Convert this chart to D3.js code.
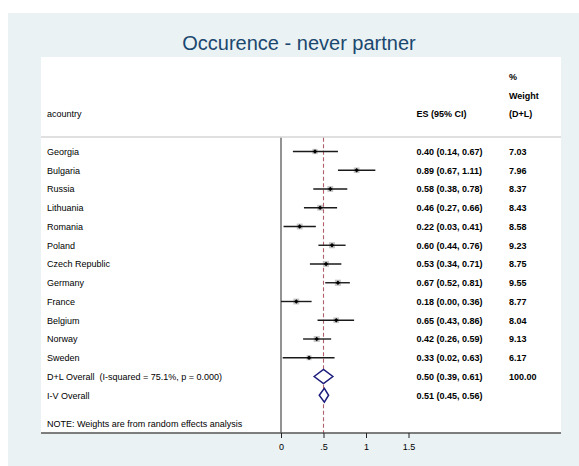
<!DOCTYPE html>
<html>
<head>
<meta charset="utf-8">
<script src="https://cdn.jsdelivr.net/npm/d3@7/dist/d3.min.js"></script>
<style>
  html, body { margin: 0; padding: 0; background: #ffffff; }
  svg { display: block; font-family: "Liberation Sans", Arial, Helvetica, sans-serif; }
  svg text { white-space: pre; }
</style>
</head>
<body>
<svg id="chart" width="579" height="466"></svg>
<script>
// Study-level estimates (effect size with 95% CI) and random-effects weights
const countries = ["Georgia", "Bulgaria", "Russia", "Lithuania", "Romania", "Poland",
  "Czech Republic", "Germany", "France", "Belgium", "Norway", "Sweden"];
const esValues = [0.40, 0.89, 0.58, 0.46, 0.22, 0.60, 0.53, 0.67, 0.18, 0.65, 0.42, 0.33];
const ciLow    = [0.14, 0.67, 0.38, 0.27, 0.03, 0.44, 0.34, 0.52, 0.00, 0.43, 0.26, 0.02];
const ciHigh   = [0.67, 1.11, 0.78, 0.66, 0.41, 0.76, 0.71, 0.81, 0.36, 0.86, 0.59, 0.63];
const weights  = [7.03, 7.96, 8.37, 8.43, 8.58, 9.23, 8.75, 9.55, 8.77, 8.04, 9.13, 6.17];

// Pooled estimates
const overallLabels = ["D+L Overall  (I-squared = 75.1%, p = 0.000)", "I-V Overall"];
const overallES   = [0.50, 0.51];
const overallLow  = [0.39, 0.45];
const overallHigh = [0.61, 0.56];
const overallWeight = ["100.00", ""];

const xTicks = [0, 0.5, 1, 1.5];
const xTickLabels = ["0", ".5", "1", "1.5"];

const titleText = "Occurence - never partner";
const noteText = "NOTE: Weights are from random effects analysis";
const weightHeader = ["%", "Weight", "(D+L)"];

const svg = d3.select("#chart");
const W = 579, H = 466;

// Graph region background
svg.append("rect").attr("x", 8).attr("y", 13).attr("width", W - 8).attr("height", H - 13)
  .attr("fill", "#eaf2f3");

// Plot region
const plot = { left: 41, right: 561, top: 57, bottom: 433 };
svg.append("rect").attr("x", plot.left).attr("y", plot.top)
  .attr("width", plot.right - plot.left).attr("height", plot.bottom - plot.top)
  .attr("fill", "#ffffff");

// Title
svg.append("text").attr("x", 299).attr("y", 50).attr("text-anchor", "middle")
  .attr("font-size", 20).attr("fill", "#1a476f").text(titleText);

const x = d3.scaleLinear().domain([0, 1.5]).range([281, 408.5]);

// Row positions (row 0 = first study; negative rows hold the header)
const y = d3.scaleLinear().domain([0, 1]).range([151.5, 151.5 + 18.75]);

const labelX = 47, esX = 416.5, wX = 509;
const fs = 9;
const base = 3.3; // baseline offset from row centre

// Header
const header = svg.append("g").attr("font-size", fs).attr("fill", "#000");
header.append("text").attr("x", labelX).attr("y", y(-2) + base).text("acountry");
header.append("text").attr("x", esX).attr("y", y(-2) + base).attr("font-weight", "bold").text("ES (95% CI)");
weightHeader.forEach((t, i) => {
  header.append("text").attr("x", wX).attr("y", y(-4 + i) + base).attr("font-weight", "bold").text(t);
});

// Header separator
svg.append("line").attr("x1", plot.left).attr("x2", plot.right)
  .attr("y1", y(-0.77)).attr("y2", y(-0.77))
  .attr("stroke", "#d6d6d6").attr("stroke-width", 1.6);

// Line of no effect at zero
svg.append("line").attr("x1", x(0)).attr("x2", x(0)).attr("y1", y(-0.73)).attr("y2", plot.bottom)
  .attr("stroke", "#3a3a3a").attr("stroke-width", 1.1);

// Overall effect reference line
svg.append("line").attr("x1", x(overallES[0])).attr("x2", x(overallES[0]))
  .attr("y1", y(-0.73)).attr("y2", plot.bottom)
  .attr("stroke", "#b0606a").attr("stroke-width", 1.1).attr("stroke-dasharray", "4,2.5");

// Study rows
const studies = countries.map((c, i) => ({
  name: c, es: esValues[i], lo: ciLow[i], hi: ciHigh[i], w: weights[i], row: i
}));

const rowsG = svg.append("g").selectAll("g.study").data(studies).join("g").attr("class", "study");

// Weight boxes (area proportional to weight)
const half = d => 1.0 * Math.sqrt(d.w);
rowsG.append("rect")
  .attr("x", d => x(d.es) - half(d))
  .attr("y", d => y(d.row) - half(d))
  .attr("width", d => 2 * half(d))
  .attr("height", d => 2 * half(d))
  .attr("fill", "#c6c6c6");

// Confidence intervals
rowsG.append("line")
  .attr("x1", d => x(d.lo)).attr("x2", d => x(d.hi))
  .attr("y1", d => y(d.row)).attr("y2", d => y(d.row))
  .attr("stroke", "#1a1a1a").attr("stroke-width", 1.4);

// Point estimates
rowsG.append("path")
  .attr("d", d => {
    const cx = x(d.es), cy = y(d.row), r = 2.2;
    return `M${cx},${cy - r}L${cx + r},${cy}L${cx},${cy + r}L${cx - r},${cy}Z`;
  })
  .attr("fill", "#000");

// Labels
rowsG.append("text").attr("x", labelX).attr("y", d => y(d.row) + base)
  .attr("font-size", fs).attr("fill", "#000").text(d => d.name);
rowsG.append("text").attr("x", esX).attr("y", d => y(d.row) + base)
  .attr("font-size", fs).attr("font-weight", "bold").attr("fill", "#000")
  .text(d => `${d.es.toFixed(2)} (${d.lo.toFixed(2)}, ${d.hi.toFixed(2)})`);
rowsG.append("text").attr("x", wX).attr("y", d => y(d.row) + base)
  .attr("font-size", fs).attr("font-weight", "bold").attr("fill", "#000")
  .text(d => d.w.toFixed(2));

// Pooled rows with diamonds
const pooled = overallLabels.map((l, i) => ({
  label: l, es: overallES[i], lo: overallLow[i], hi: overallHigh[i],
  w: overallWeight[i], row: countries.length + i
}));
const pG = svg.append("g").selectAll("g.pooled").data(pooled).join("g").attr("class", "pooled");
pG.append("path")
  .attr("d", d => {
    const cy = y(d.row), h = 7;
    return `M${x(d.lo)},${cy}L${x(d.es)},${cy - h}L${x(d.hi)},${cy}L${x(d.es)},${cy + h}Z`;
  })
  .attr("fill", "#ffffff").attr("stroke", "#1c1c7c").attr("stroke-width", 1.5);
pG.append("text").attr("x", labelX).attr("y", d => y(d.row) + base)
  .attr("font-size", fs).attr("fill", "#000").text(d => d.label);
pG.append("text").attr("x", esX).attr("y", d => y(d.row) + base)
  .attr("font-size", fs).attr("font-weight", "bold").attr("fill", "#000")
  .text(d => `${d.es.toFixed(2)} (${d.lo.toFixed(2)}, ${d.hi.toFixed(2)})`);
pG.append("text").attr("x", wX).attr("y", d => y(d.row) + base)
  .attr("font-size", fs).attr("font-weight", "bold").attr("fill", "#000")
  .text(d => d.w);

// Note
svg.append("text").attr("x", labelX).attr("y", 427.3).attr("font-size", fs).attr("fill", "#000")
  .text(noteText);

// X axis
svg.append("line").attr("x1", plot.left).attr("x2", plot.right)
  .attr("y1", plot.bottom).attr("y2", plot.bottom)
  .attr("stroke", "#555").attr("stroke-width", 1.3);
const axis = d3.axisBottom(x).tickValues(xTicks).tickSize(5).tickPadding(6)
  .tickFormat((d, i) => xTickLabels[i]);
const axG = svg.append("g").attr("transform", `translate(0,${plot.bottom})`).call(axis);
axG.select(".domain").remove();
axG.selectAll(".tick line").attr("stroke", "#222");
axG.selectAll(".tick text").attr("font-size", 9).attr("fill", "#000")
  .attr("font-family", "\"Liberation Sans\", Arial, sans-serif");
</script>
</body>
</html>
